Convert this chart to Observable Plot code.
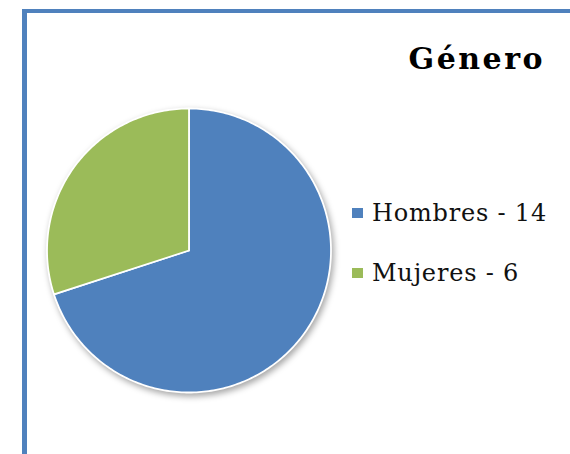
<!DOCTYPE html>
<html>
<head>
<meta charset="utf-8">
<script src="https://cdn.jsdelivr.net/npm/d3@7"></script>
<script src="https://cdn.jsdelivr.net/npm/@observablehq/plot@0.6"></script>
<style>
  html, body { margin: 0; padding: 0; background: #fff; }
  body { width: 570px; height: 454px; position: relative; overflow: hidden; font-family: "DejaVu Serif", "Liberation Serif", serif; }
  #frame { position: absolute; left: 22px; top: 9px; width: 600px; height: 500px; border-left: 5px solid #4F81BD; border-top: 4px solid #4F81BD; box-sizing: border-box; }
  #title { position: absolute; right: 25px; top: 44px; font-size: 30px; font-weight: bold; line-height: 30px; letter-spacing: 2.5px; color: #000; white-space: nowrap; }
  #legend { position: absolute; left: 352px; top: 201px; }
  .item { position: relative; height: 60px; font-size: 24px; line-height: 24px; letter-spacing: 0.8px; color: #111; white-space: nowrap; }
  .sw { position: absolute; left: 0; top: 7px; width: 11px; height: 10px; }
  .lab { position: absolute; left: 20px; top: 0; }
  #chart { position: absolute; left: 0; top: 0; }
  #chart svg { filter: drop-shadow(2px 3px 3px rgba(0,0,0,0.35)); background: transparent; }
</style>
</head>
<body>
<div id="frame"></div>
<div id="chart"></div>
<div id="title"></div>
<div id="legend"></div>
<script>
const title = "Género";
const categories = ["Hombres", "Mujeres"];
const values = [14, 6];
const colors = ["#4F81BD", "#9BBB59"];

document.getElementById("title").textContent = title;

// Slice outlines derived from the data values via d3.pie (clockwise from 12 o'clock)
const arcs = d3.pie().sort(null).value(d => d.value)(categories.map((c, i) => ({label: c, value: values[i]})));
const points = [];
for (const a of arcs) {
  const lab = a.data.label;
  points.push({label: lab, x: 0, y: 0});
  const n = Math.max(2, Math.ceil((a.endAngle - a.startAngle) / (Math.PI / 180)));
  for (let k = 0; k <= n; k++) {
    const t = a.startAngle + (a.endAngle - a.startAngle) * k / n;
    points.push({label: lab, x: Math.sin(t), y: Math.cos(t)});
  }
  points.push({label: lab, x: 0, y: 0});
}

const R = 142, cx = 188.5, cy = 250, W = 570, H = 454;
const plot = Plot.plot({
  width: W, height: H,
  margin: 0,
  x: {domain: [-cx / R, (W - cx) / R], axis: null},
  y: {domain: [-(H - cy) / R, cy / R], axis: null},
  color: {domain: categories, range: colors},
  style: {background: "transparent"},
  marks: [
    Plot.line(points, {x: "x", y: "y", z: "label", fill: "label", stroke: "white", strokeWidth: 1.8, strokeLinejoin: "round"})
  ]
});
document.getElementById("chart").appendChild(plot);

const legend = document.getElementById("legend");
categories.forEach((c, i) => {
  const item = document.createElement("div");
  item.className = "item";
  const sw = document.createElement("div");
  sw.className = "sw";
  sw.style.background = colors[i];
  const lab = document.createElement("div");
  lab.className = "lab";
  lab.textContent = `${c} - ${values[i]}`;
  item.appendChild(sw);
  item.appendChild(lab);
  legend.appendChild(item);
});
</script>
</body>
</html>
